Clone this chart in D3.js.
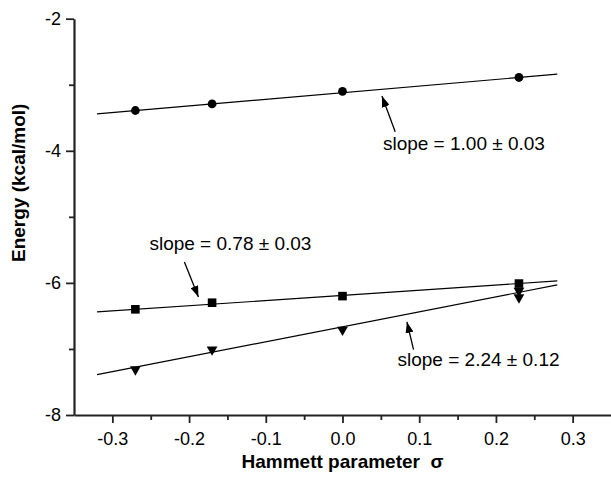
<!DOCTYPE html>
<html>
<head>
<meta charset="utf-8">
<script src="https://cdn.jsdelivr.net/npm/d3@7"></script>
<style>
  html, body { margin: 0; padding: 0; background: #fff; }
  svg { display: block; }
  text { font-family: "Liberation Sans", Arial, Helvetica, sans-serif; }
</style>
</head>
<body>
<svg id="chart" width="611" height="480"></svg>
<script>
// ---- data ----
const circleX = [-0.27, -0.17, 0.0, 0.23];
const circleY = [-3.39, -3.29, -3.10, -2.89];
const squareX = [-0.27, -0.17, 0.0, 0.23];
const squareY = [-6.40, -6.30, -6.20, -6.01];
const triX = [-0.27, -0.17, 0.0, 0.23, 0.23];
const triY = [-7.31, -7.01, -6.71, -6.12, -6.22];
const fitX = [-0.32, 0.28];
const circleFit = [-3.44, -2.84];
const squareFit = [-6.44, -5.97];
const triFit = [-7.39, -6.03];
const xTicks = [-0.3, -0.2, -0.1, 0.0, 0.1, 0.2, 0.3];
const xMinor = [-0.25, -0.15, -0.05, 0.05, 0.15, 0.25];
const yTicks = [-8, -6, -4, -2];
const yMinor = [-7, -5, -3];
const slopeLabels = ["slope = 1.00 \u00b1 0.03", "slope = 0.78 \u00b1 0.03", "slope = 2.24 \u00b1 0.12"];

// ---- layout ----
const svg = d3.select("#chart");
const x = d3.scaleLinear().domain([-0.35, 0.35]).range([74, 611]);
const y = d3.scaleLinear().domain([-8, -2]).range([415, 18.7]);
const fmtX = d => d3.format(".1f")(d).replace("\u2212", "-");
const fmtY = d => d3.format("d")(d).replace("\u2212", "-");

// x axis
const gx = svg.append("g").attr("transform", `translate(0,${y(-8)})`);
gx.call(d3.axisBottom(x).tickValues(xTicks).tickSize(8).tickSizeOuter(0).tickPadding(9).tickFormat(fmtX));
gx.append("g").call(d3.axisBottom(x).tickValues(xMinor).tickSize(5).tickSizeOuter(0).tickFormat(""))
  .select(".domain").remove();
// y axis
const gy = svg.append("g").attr("transform", `translate(${x(-0.35)},0)`);
gy.call(d3.axisLeft(y).tickValues(yTicks).tickSize(8).tickSizeOuter(0).tickPadding(5).tickFormat(fmtY));
gy.append("g").call(d3.axisLeft(y).tickValues(yMinor).tickSize(5).tickSizeOuter(0).tickFormat(""))
  .select(".domain").remove();

svg.selectAll(".domain").attr("stroke", "#222").attr("stroke-width", 2.2);
svg.selectAll(".tick line").attr("stroke", "#222").attr("stroke-width", 1.8);
svg.selectAll(".tick text").attr("font-size", 18).attr("fill", "#000")
  .style("font-family", '"Liberation Sans", Arial, sans-serif');

// axis titles
svg.append("text").attr("x", x(0.0)).attr("y", 468).attr("text-anchor", "middle")
  .attr("font-size", 19).attr("font-weight", "bold").attr("xml:space", "preserve")
  .text("Hammett parameter  \u03c3");
svg.append("text").attr("transform", "translate(25,262) rotate(-90)")
  .attr("font-size", 19).attr("font-weight", "bold")
  .text("Energy (kcal/mol)");

// fit lines
const line = d3.line().x(d => x(d[0])).y(d => y(d[1]));
[circleFit, squareFit, triFit].forEach(f => {
  svg.append("path").datum(fitX.map((v, i) => [v, f[i]]))
    .attr("d", line).attr("fill", "none").attr("stroke", "#000").attr("stroke-width", 1.2);
});

// markers
svg.selectAll(".circ").data(circleX.map((v, i) => [v, circleY[i]])).enter()
  .append("circle").attr("cx", d => x(d[0])).attr("cy", d => y(d[1])).attr("r", 4.4).attr("fill", "#000");
svg.selectAll(".sq").data(squareX.map((v, i) => [v, squareY[i]])).enter()
  .append("rect").attr("x", d => x(d[0]) - 4.3).attr("y", d => y(d[1]) - 4.3)
  .attr("width", 8.6).attr("height", 8.6).attr("fill", "#000");
const tri = d3.symbol().type(d3.symbolTriangle).size(50);
svg.selectAll(".tri").data(triX.map((v, i) => [v, triY[i]])).enter()
  .append("path").attr("d", tri)
  .attr("transform", d => `translate(${x(d[0])},${y(d[1])}) rotate(180)`).attr("fill", "#000");

// annotations (arrows + labels)
svg.append("defs").append("marker").attr("id", "ah")
  .attr("markerUnits", "userSpaceOnUse").attr("markerWidth", 12).attr("markerHeight", 8)
  .attr("refX", 11).attr("refY", 4).attr("orient", "auto")
  .append("path").attr("d", "M0,0 L11,4 L0,8 Z").attr("fill", "#000");

const annot = [
  { tail: [0.0687, -3.712], tip: [0.0514, -3.171], text: [0.0527, -3.99] },
  { tail: [-0.2061, -5.682], tip: [-0.1878, -6.212], text: [-0.2517, -5.505] },
  { tail: [0.0926, -7.009], tip: [0.0840, -6.591], text: [0.0717, -7.262] }
];
annot.forEach((a, i) => {
  svg.append("line").attr("x1", x(a.tail[0])).attr("y1", y(a.tail[1]))
    .attr("x2", x(a.tip[0])).attr("y2", y(a.tip[1]))
    .attr("stroke", "#000").attr("stroke-width", 1.3).attr("marker-end", "url(#ah)");
  svg.append("text").attr("x", x(a.text[0])).attr("y", y(a.text[1]))
    .attr("font-size", 19).attr("fill", "#000").text(slopeLabels[i]);
});
</script>
</body>
</html>
